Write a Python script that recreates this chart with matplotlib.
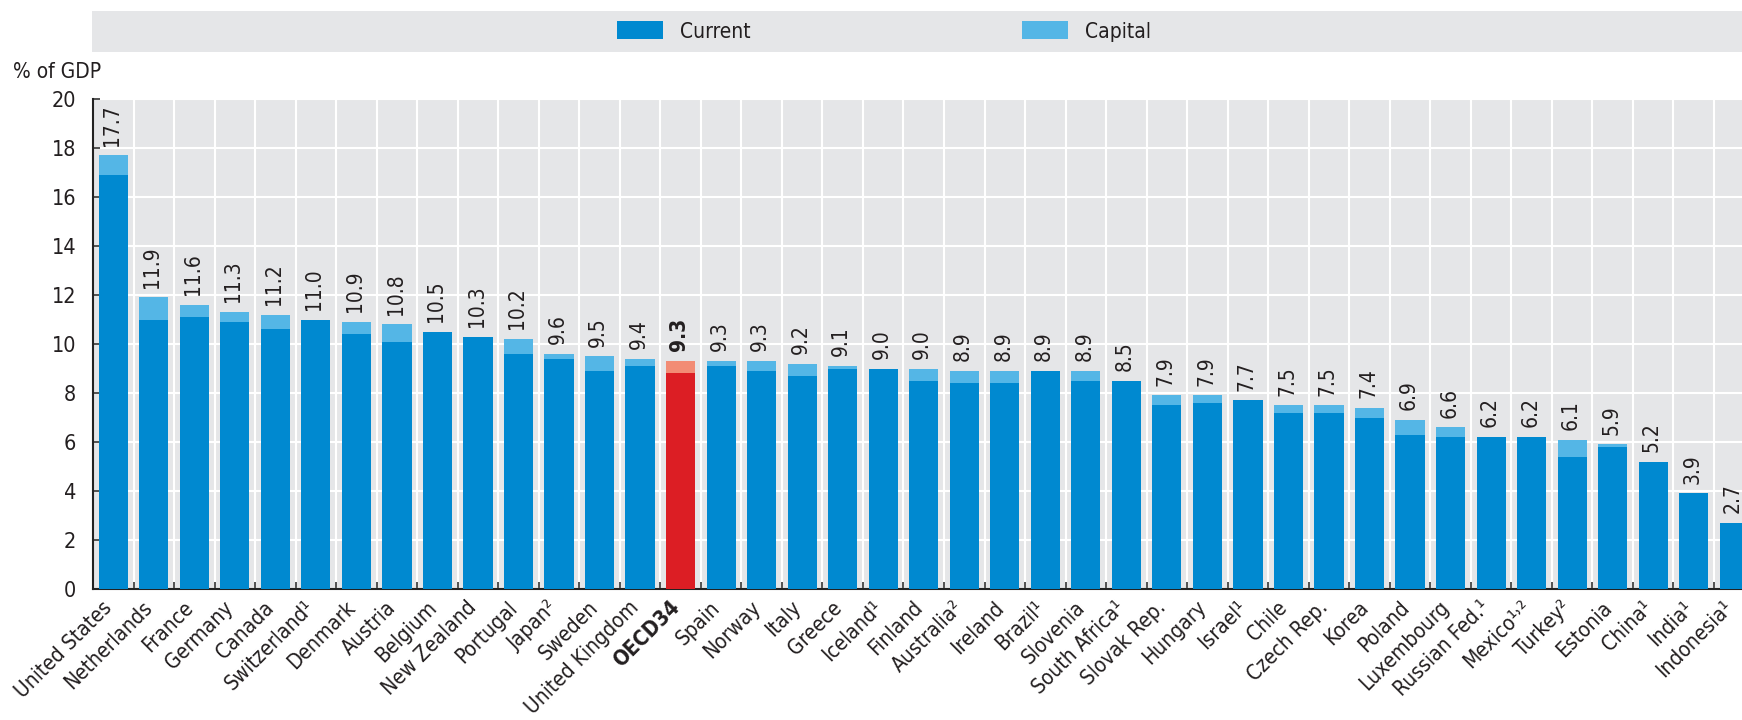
import numpy as np
import matplotlib
matplotlib.use("Agg")
import matplotlib.pyplot as plt
from matplotlib.patches import Patch

plt.rcParams['font.family'] = ['DejaVu Sans']
plt.rcParams['font.stretch'] = 'condensed'

paises = ["United States", "Netherlands", "France", "Germany", "Canada", "Switzerland¹",
          "Denmark", "Austria", "Belgium", "New Zealand", "Portugal", "Japan²", "Sweden",
          "United Kingdom", "OECD34", "Spain", "Norway", "Italy", "Greece", "Iceland¹",
          "Finland", "Australia²", "Ireland", "Brazil¹", "Slovenia", "South Africa¹",
          "Slovak Rep.", "Hungary", "Israel¹", "Chile", "Czech Rep.", "Korea", "Poland",
          "Luxembourg", "Russian Fed.¹", "Mexico¹˒²", "Turkey²", "Estonia", "China¹",
          "India¹", "Indonesia¹"]

total = [17.7, 11.9, 11.6, 11.3, 11.2, 11.0, 10.9, 10.8, 10.5, 10.3, 10.2, 9.6, 9.5,
         9.4, 9.3, 9.3, 9.3, 9.2, 9.1, 9.0, 9.0, 8.9, 8.9, 8.9, 8.9, 8.5,
         7.9, 7.9, 7.7, 7.5, 7.5, 7.4, 6.9, 6.6, 6.2, 6.2, 6.1, 5.9, 5.2, 3.9, 2.7]

corrente = [16.9, 11.0, 11.1, 10.9, 10.6, 11.0, 10.4, 10.1, 10.5, 10.3, 9.6, 9.4, 8.9,
            9.1, 8.8, 9.1, 8.9, 8.7, 9.0, 9.0, 8.5, 8.4, 8.4, 8.9, 8.5, 8.5,
            7.5, 7.6, 7.7, 7.2, 7.2, 7.0, 6.3, 6.2, 6.2, 6.2, 5.4, 5.8, 5.2, 3.9, 2.7]

destaque = "OECD34"

azul = "#0089d0"
azul_claro = "#54b6e6"
vermelho = "#dc1e24"
salmao = "#f28c75"
fundo = "#e5e6e8"
texto = "#231f20"

corrente = np.array(corrente)
capital = np.array(total) - corrente
x = np.arange(len(paises))

cores_cor = [vermelho if p == destaque else azul for p in paises]
cores_cap = [salmao if p == destaque else azul_claro for p in paises]

fig = plt.figure(figsize=(17.42, 7.2), dpi=100)

# faixa da legenda
leg_ax = fig.add_axes([92 / 1742, 1 - 52 / 720, 1 - 92 / 1742, 41 / 720])
leg_ax.set_facecolor(fundo)
leg_ax.set_xticks([])
leg_ax.set_yticks([])
for s in leg_ax.spines.values():
    s.set_visible(False)

legendas = []
for cor, nome, pos in [(azul, "Current", 0.318), (azul_claro, "Capital", 0.5636)]:
    lg = leg_ax.legend(handles=[Patch(facecolor=cor, label=nome)], loc="center left",
                       bbox_to_anchor=(pos, 0.5), frameon=False, fontsize=15,
                       handlelength=2.2, handleheight=0.95, handletextpad=0.85,
                       borderpad=0, borderaxespad=0, labelcolor=texto)
    legendas.append(lg)
leg_ax.add_artist(legendas[0])

# grafico principal
ax = fig.add_axes([93 / 1742, 1 - 589 / 720, 1661.5 / 1742, 490 / 720])
ax.set_facecolor(fundo)

ax.bar(x, corrente, width=0.72, color=cores_cor, zorder=3)
ax.bar(x, capital, width=0.72, bottom=corrente, color=cores_cap, zorder=3)

for i, v in enumerate(total):
    peso = "bold" if paises[i] == destaque else "normal"
    ax.annotate(f"{v:.1f}", (x[i], v), xytext=(-1, 7), textcoords="offset points",
                rotation=90, ha="center", va="bottom", fontsize=15, color=texto,
                fontweight=peso)

ax.set_xlim(-0.5, len(paises) - 0.5)
ax.set_ylim(0, 20)
ax.set_yticks(np.arange(0, 21, 2))
# rótulos um pouco à esquerda do centro da barra
ax.set_xticks(x - 0.28)
ax.set_xticklabels(paises, rotation=45, ha="right", rotation_mode="anchor",
                   fontsize=15, color=texto)
for lbl in ax.get_xticklabels():
    if lbl.get_text() == destaque:
        lbl.set_fontweight("bold")
ax.set_xticks(x[:-1] + 0.5, minor=True)

ax.tick_params(axis="x", which="major", length=0, pad=6)
ax.tick_params(axis="x", which="minor", direction="in", length=5, width=1.2, color="#333333")
ax.tick_params(axis="y", direction="in", length=5, width=1.2, color="#333333",
               labelsize=15.5, labelcolor=texto, pad=12)

ax.grid(axis="y", color="white", linewidth=1.5, zorder=0)
ax.grid(axis="x", which="minor", color="white", linewidth=1.5, zorder=0)
ax.grid(axis="x", which="major", visible=False)

for lado in ["top", "right"]:
    ax.spines[lado].set_visible(False)
ax.spines["left"].set_color("#222222")
ax.spines["bottom"].set_color("#222222")
ax.spines["left"].set_linewidth(1.5)
ax.spines["bottom"].set_linewidth(1.5)

fig.text(13 / 1742, 1 - 72 / 720, "% of GDP", fontsize=15, color=texto, va="center")

plt.savefig("out.png", dpi=100)
plt.close()
